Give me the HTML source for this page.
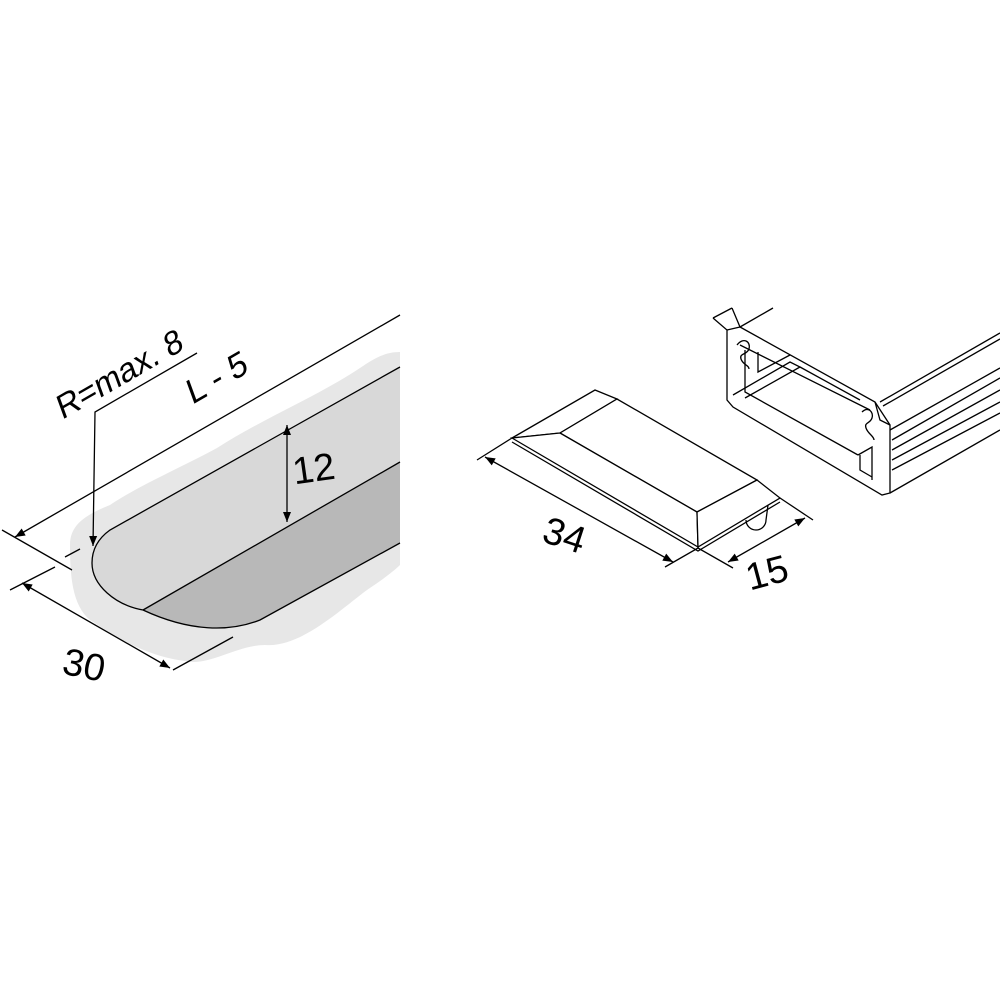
<!DOCTYPE html>
<html><head><style>html,body{margin:0;padding:0;background:#fff}svg{display:block}</style></head>
<body>
<svg width="1000" height="1000" viewBox="0 0 1000 1000" xmlns="http://www.w3.org/2000/svg">
<defs>
<marker id="a" viewBox="0 0 10 10" refX="10" refY="5" markerWidth="22" markerHeight="10" markerUnits="userSpaceOnUse" orient="auto-start-reverse"><path d="M0,1 L10,5 L0,9 z" fill="#000"/></marker>
</defs>
<g font-family="Liberation Sans, sans-serif" fill="none" stroke="#000" stroke-width="1.3">
<!-- left drawing -->
<path d="M400,352 C385,352 375,358 360,368 C320,395 260,420 217,448 C180,468 140,485 110,505 C85,515 70,525 70,545 C70,575 72,605 90,620 C120,640 150,658 193,662 C215,662 240,645 265,645 C300,648 340,610 367,590 C385,578 395,570 400,565 Z" fill="#e7e7e7" stroke="none"/>
<path d="M400,367 L110,530 C96,540 92,552 92,563 C92,585 115,605 143,610 L400,462 Z" fill="#d8d8d8" stroke="none"/>
<path d="M143,610 L400,462 L400,543 L260,620 C230,632 190,632 143,610 Z" fill="#b8b8b8" stroke="none"/>
<path d="M400,367 L110,530 C96,540 92,552 92,563 C92,585 115,605 143,610 C190,632 230,632 260,620 L400,543"/>
<path d="M143,610 L400,462"/>
<path d="M15,537 L400,315" marker-start="url(#a)"/>
<path d="M2,530 L72,570"/>
<path d="M65,557 L80,549" />
<path d="M10,590 L55,567"/>
<path d="M173,670 L233,637"/>
<path d="M22,583 L170,668" marker-start="url(#a)" marker-end="url(#a)"/>
<path d="M197,353 L95,412 L93,546" marker-end="url(#a)"/>
<path d="M287,425 L287,522" marker-start="url(#a)" marker-end="url(#a)"/>
<!-- middle block -->
<path d="M512,438 L595,390 L617,399 L560,433 Z" fill="#fff"/>
<path d="M560,433 L617,399 L757,480 L697,512 Z" fill="#fff"/>
<path d="M512,438 L560,433 L697,512 L698,547 Z" fill="#fff"/>
<path d="M697,512 L757,480 L780,498 L698,547 Z" fill="#fff"/>
<path d="M512,442 L698,551 L780,502"/>
<path d="M746,520 a10,10 0 0 0 20,0 L768,505"/>
<path d="M477,460 L512,438"/>
<path d="M665,567 L698,548 L733,568"/>
<path d="M780,498 L813,520"/>
<path d="M485,457 L673,562" marker-start="url(#a)" marker-end="url(#a)"/>
<path d="M728,562 L805,518" marker-start="url(#a)" marker-end="url(#a)"/>
<!-- right profile -->
<path d="M713,318 L732,308"/>
<path d="M740,327 L773,308"/>
<path d="M713,318 L727,330 L727,400 L733,407 L882,495 L890,493 L890,425 L875,402 L740,327 L732,308"/>
<path d="M727,330 L740,327"/>
<path d="M880,402 L1000,333"/>
<path d="M883,406 L1000,339"/>
<path d="M875,402 L880,420 L890,425"/>
<path d="M740,345 L870,410"/>
<path d="M745,350 L745,392 L858,455"/>
<path d="M758,352 L758,372 L790,355"/>
<path d="M733,395 L790,362 L800,367 L745,398"/>
<path d="M800,367 L860,400"/>
<path d="M858,455 L872,447 L872,480"/>
<path d="M860,455 L860,470 L872,477"/>
<path d="M737,345 c6,-8 14,-4 12,4 c-2,6 -10,4 -8,10 c2,6 8,6 8,10"/>
<path d="M862,412 c6,-6 12,0 10,6 c-2,6 -8,4 -6,10 c2,6 8,8 8,12"/>
<path d="M890,430 L1000,368"/><path d="M892,440 L1000,378"/>
<path d="M892,450 L1000,390"/><path d="M892,460 L1000,402"/>
<path d="M892,470 L1000,413"/><path d="M890,493 L1000,430"/>
</g>
<g font-family="Liberation Sans, sans-serif" fill="#000">
<text transform="translate(62,420) rotate(-30) skewX(-10)" font-size="33">R=max. 8</text>
<text transform="translate(192,405) rotate(-30) skewX(-10)" font-size="34">L - 5</text>
<text x="292" y="482" font-size="38" transform="rotate(-8 310 465)">12</text>
<text x="64" y="678" font-size="38" transform="rotate(12 85 660)">30</text>
<text x="545" y="548" font-size="38" transform="rotate(18 565 530)">34</text>
<text x="745" y="586" font-size="38" transform="rotate(-15 765 570)">15</text>
</g>
</svg>
</body></html>
